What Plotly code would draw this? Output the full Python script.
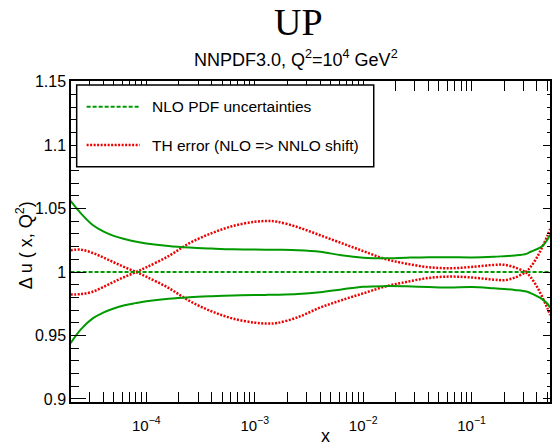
import plotly.graph_objects as go

# ---- data ----
x_vals = [2.0e-5, 2.5e-5, 3.2e-5, 4.0e-5, 5.0e-5, 6.3e-5, 7.9e-5, 1.0e-4,
          1.6e-4, 2.5e-4, 4.0e-4, 6.3e-4, 1.0e-3, 1.3e-3, 1.6e-3, 2.5e-3,
          4.0e-3, 6.3e-3, 1.0e-2, 1.6e-2, 2.5e-2, 4.0e-2, 6.3e-2, 0.1,
          0.16, 0.2, 0.25, 0.32, 0.35, 0.4, 0.45, 0.5, 0.53]

pdf_central = [1.0] * len(x_vals)

pdf_upper = [1.056, 1.046, 1.037, 1.032, 1.0285, 1.026, 1.024, 1.0225,
             1.0205, 1.0193, 1.0185, 1.0179, 1.0177, 1.0176, 1.0175, 1.0172,
             1.0160, 1.0132, 1.0113, 1.0108, 1.0113, 1.0117, 1.0117, 1.0115,
             1.0120, 1.0125, 1.0130, 1.0143, 1.0160, 1.0180, 1.0205, 1.0255, 1.0295]

pdf_lower = [0.944, 0.955, 0.9635, 0.968, 0.9713, 0.9738, 0.9755, 0.977,
             0.979, 0.9802, 0.981, 0.9816, 0.9819, 0.9820, 0.9821, 0.9826,
             0.9840, 0.9863, 0.9884, 0.9889, 0.9887, 0.9882, 0.9878, 0.9882,
             0.9872, 0.9866, 0.9858, 0.9846, 0.9834, 0.9810, 0.9785, 0.9750, 0.9720]

th_a = [1.0171, 1.0176, 1.0150, 1.0115, 1.0077, 1.0038, 1.0003, 0.9963,
        0.9875, 0.9772, 0.9690, 0.9633, 0.9601, 0.9594, 0.9598, 0.9644,
        0.9720, 0.9778, 0.9832, 0.9886, 0.9922, 0.9953, 0.9964, 0.9957,
        0.9940, 0.9936, 0.9956, 1.0005, 1.0040, 1.0115, 1.0200, 1.0285, 1.0340]

th_b = [0.9824, 0.9826, 0.9845, 0.9882, 0.9922, 0.9962, 0.9997, 1.0037,
        1.0125, 1.0228, 1.0306, 1.0363, 1.0396, 1.0402, 1.0397, 1.0353,
        1.0290, 1.0228, 1.0165, 1.0102, 1.0066, 1.0038, 1.0030, 1.0040,
        1.0056, 1.0057, 1.0036, 0.9995, 0.9960, 0.9885, 0.9800, 0.9715, 0.9660]

x_tick_vals = [1e-4, 1e-3, 1e-2, 1e-1]
x_tick_text = ["10<sup>\u22124</sup>", "10<sup>\u22123</sup>", "10<sup>\u22122</sup>", "10<sup>\u22121</sup>"]
y_tick_vals = [0.9, 0.95, 1.0, 1.05, 1.1, 1.15]
y_tick_text = ["0.9", "0.95", "1", "1.05", "1.1", "1.15"]

legend_labels = ["NLO PDF uncertainties", "TH error (NLO => NNLO shift)"]

GREEN = "#009a00"
RED = "#ee0000"
FONT = "Liberation Sans, Arial, sans-serif"

fig = go.Figure()
sm = dict(shape="spline", smoothing=1.0)
fig.add_trace(go.Scatter(x=x_vals, y=th_a, mode="lines",
                         line=dict(color=RED, width=2.5, dash="2px,1.5px", **sm)))
fig.add_trace(go.Scatter(x=x_vals, y=th_b, mode="lines",
                         line=dict(color=RED, width=2.5, dash="2px,1.5px", **sm)))
fig.add_trace(go.Scatter(x=x_vals, y=pdf_upper, mode="lines",
                         line=dict(color=GREEN, width=2, **sm)))
fig.add_trace(go.Scatter(x=x_vals, y=pdf_lower, mode="lines",
                         line=dict(color=GREEN, width=2, **sm)))
fig.add_trace(go.Scatter(x=x_vals, y=pdf_central, mode="lines",
                         line=dict(color=GREEN, width=2, dash="4px,2px")))
# invisible trace to anchor right-hand tick axis
fig.add_trace(go.Scatter(x=[x_vals[0]], y=[1.0], yaxis="y2", mode="markers",
                         marker=dict(opacity=0), hoverinfo="skip"))

X0, X1 = 71, 552
Y0, Y1 = 81, 402
W, H = 553, 446

def px(x):
    return (x - X0) / (X1 - X0)

def py(y):
    return (Y1 - y) / (Y1 - Y0)

fig.update_layout(
    width=W, height=H,
    margin=dict(l=X0, r=W - X1, t=Y0, b=H - Y1),
    paper_bgcolor="white", plot_bgcolor="white",
    showlegend=False,
    font=dict(family=FONT, color="black", size=16),
    xaxis=dict(type="log", range=[-4.695, -0.277],
               tickvals=x_tick_vals, ticktext=x_tick_text,
               ticks="inside", ticklen=10, tickwidth=1, tickcolor="black",
               ticklabelstandoff=9,
               minor=dict(dtick="D1", ticks="inside", ticklen=5, tickwidth=1,
                          tickcolor="black", showgrid=False),
               showline=True, linecolor="black", linewidth=1.5, mirror="allticks",
               showgrid=False, zeroline=False,
               tickfont=dict(size=15, family=FONT)),
    yaxis=dict(range=[0.8976, 1.1505],
               tickvals=y_tick_vals, ticktext=y_tick_text,
               ticks="inside", ticklen=15, tickwidth=1, tickcolor="black",
               minor=dict(dtick=0.01, tick0=0.9, ticks="inside", ticklen=8,
                          tickwidth=1, tickcolor="black", showgrid=False),
               showline=True, linecolor="black", linewidth=1.5, mirror=True,
               showgrid=False, zeroline=False,
               tickfont=dict(size=16, family=FONT)),
    yaxis2=dict(range=[0.8976, 1.1505], overlaying="y", side="right",
                tickvals=y_tick_vals, showticklabels=False,
                ticks="inside", ticklen=7, tickwidth=1, tickcolor="black",
                minor=dict(dtick=0.01, tick0=0.9, ticks="inside", ticklen=3,
                           tickwidth=1, tickcolor="black", showgrid=False),
                showline=False, showgrid=False, zeroline=False),
)

annotations = [
    dict(text="UP", x=px(299), y=py(22), xref="paper", yref="paper",
         showarrow=False, xanchor="center", yanchor="middle",
         font=dict(family="Liberation Serif, Times New Roman, serif", size=38, color="black")),
    dict(text="NNPDF3.0, Q<sup>2</sup>=10<sup>4</sup> GeV<sup>2</sup>", x=px(297), y=py(58),
         xref="paper", yref="paper", showarrow=False, xanchor="center", yanchor="middle",
         font=dict(family=FONT, size=18, color="black")),
    dict(text="\u0394 u ( x, Q<sup>2</sup>)", x=px(24), y=py(245), xref="paper", yref="paper",
         showarrow=False, xanchor="center", yanchor="middle", textangle=-90,
         font=dict(family=FONT, size=18, color="black")),
    dict(text="x", x=px(327), y=py(436), xref="paper", yref="paper",
         showarrow=False, xanchor="center", yanchor="middle",
         font=dict(family=FONT, size=18, color="black")),
    dict(text=legend_labels[0], x=px(150.7), y=py(106.7), xref="paper", yref="paper",
         showarrow=False, xanchor="left", yanchor="middle",
         font=dict(family=FONT, size=15.5, color="black")),
    dict(text=legend_labels[1], x=px(150.7), y=py(145), xref="paper", yref="paper",
         showarrow=False, xanchor="left", yanchor="middle",
         font=dict(family=FONT, size=15.5, color="black")),
]
fig.update_layout(annotations=annotations)

shapes = [
    dict(type="rect", xref="paper", yref="paper",
         x0=px(76.7), x1=px(375), y0=py(166.7), y1=py(85),
         line=dict(color="black", width=1.5), fillcolor="white", layer="above"),
    dict(type="line", xref="paper", yref="paper",
         x0=px(86.7), x1=px(140), y0=py(106.7), y1=py(106.7),
         line=dict(color=GREEN, width=2, dash="4px,2px"), layer="above"),
    dict(type="line", xref="paper", yref="paper",
         x0=px(86.7), x1=px(140), y0=py(145), y1=py(145),
         line=dict(color=RED, width=2.5, dash="2px,1.5px"), layer="above"),
]
fig.update_layout(shapes=shapes)

fig.write_html("out.html")
